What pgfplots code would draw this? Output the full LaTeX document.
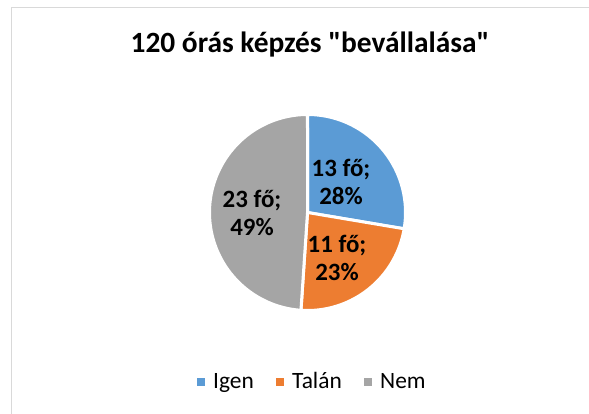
\documentclass[border=0pt]{standalone}
\usepackage{pgfplots}
\pgfplotsset{compat=1.18}
\usepackage{fontspec}
\setmainfont{Carlito}[Ligatures=TeXOff]
\definecolor{cBlue}{HTML}{5B9BD5}
\definecolor{cOrange}{HTML}{ED7D31}
\definecolor{cGray}{HTML}{A5A5A5}
\definecolor{cBorder}{HTML}{D9D9D9}
\begin{document}
\begin{tikzpicture}
\pgfmathsetmacro{\vA}{13}
\pgfmathsetmacro{\vB}{11}
\pgfmathsetmacro{\vC}{23}
\pgfmathsetmacro{\tot}{\vA+\vB+\vC}
\pgfmathsetmacro{\aA}{90}
\pgfmathsetmacro{\aB}{90-360*\vA/\tot}
\pgfmathsetmacro{\aC}{\aB-360*\vB/\tot}
\pgfmathsetmacro{\aD}{-270}
\begin{axis}[scale only axis, width=589bp, height=414bp,
  xmin=0, xmax=589, ymin=0, ymax=414, hide axis, clip=false,
]
\draw[cBorder, line width=1.3bp] (axis cs:11.5,0) -- (axis cs:11.5,406.5) -- (axis cs:589,406.5);
\addplot[fill=cBlue, draw=white, line width=3bp, domain=\aA:\aB, samples=60, variable=\t]
  ({307.5+98*cos(\t)},{201.5+98*sin(\t)}) -- (axis cs:307.5,201.5) -- cycle;
\addplot[fill=cOrange, draw=white, line width=3bp, domain=\aB:\aC, samples=60, variable=\t]
  ({307.5+98*cos(\t)},{201.5+98*sin(\t)}) -- (axis cs:307.5,201.5) -- cycle;
\addplot[fill=cGray, draw=white, line width=3bp, domain=\aC:\aD, samples=90, variable=\t]
  ({307.5+98*cos(\t)},{201.5+98*sin(\t)}) -- (axis cs:307.5,201.5) -- cycle;
% legend
\fill[cBlue] (axis cs:197,28) rectangle (axis cs:205,36);
\fill[cOrange] (axis cs:276,28) rectangle (axis cs:284,36);
\fill[cGray] (axis cs:364,28) rectangle (axis cs:372,36);
\node[anchor=base west, inner sep=0pt, font=\fontsize{23.5}{26}\selectfont] at (axis cs:213,26) {Igen};
\node[anchor=base west, inner sep=0pt, font=\fontsize{23.5}{26}\selectfont] at (axis cs:292,26) {Talán};
\node[anchor=base west, inner sep=0pt, font=\fontsize{23.5}{26}\selectfont] at (axis cs:380,26) {Nem};
% title and labels
\node[font=\fontsize{29.5}{32}\selectfont\bfseries] at (axis cs:310,369) {120 órás képzés "bevállalása"};
\node[font=\fontsize{25}{29}\selectfont\bfseries, align=center] at (axis cs:341,232) {13 fő;\\28\%};
\node[font=\fontsize{25}{29}\selectfont\bfseries, align=center] at (axis cs:337,156) {11 fő;\\23\%};
\node[font=\fontsize{25}{29}\selectfont\bfseries, align=center] at (axis cs:252,201) {23 fő;\\49\%};
\end{axis}
\pgfresetboundingbox
\path[use as bounding box] (0,0) rectangle (589bp,414bp);
\end{tikzpicture}
\end{document}
